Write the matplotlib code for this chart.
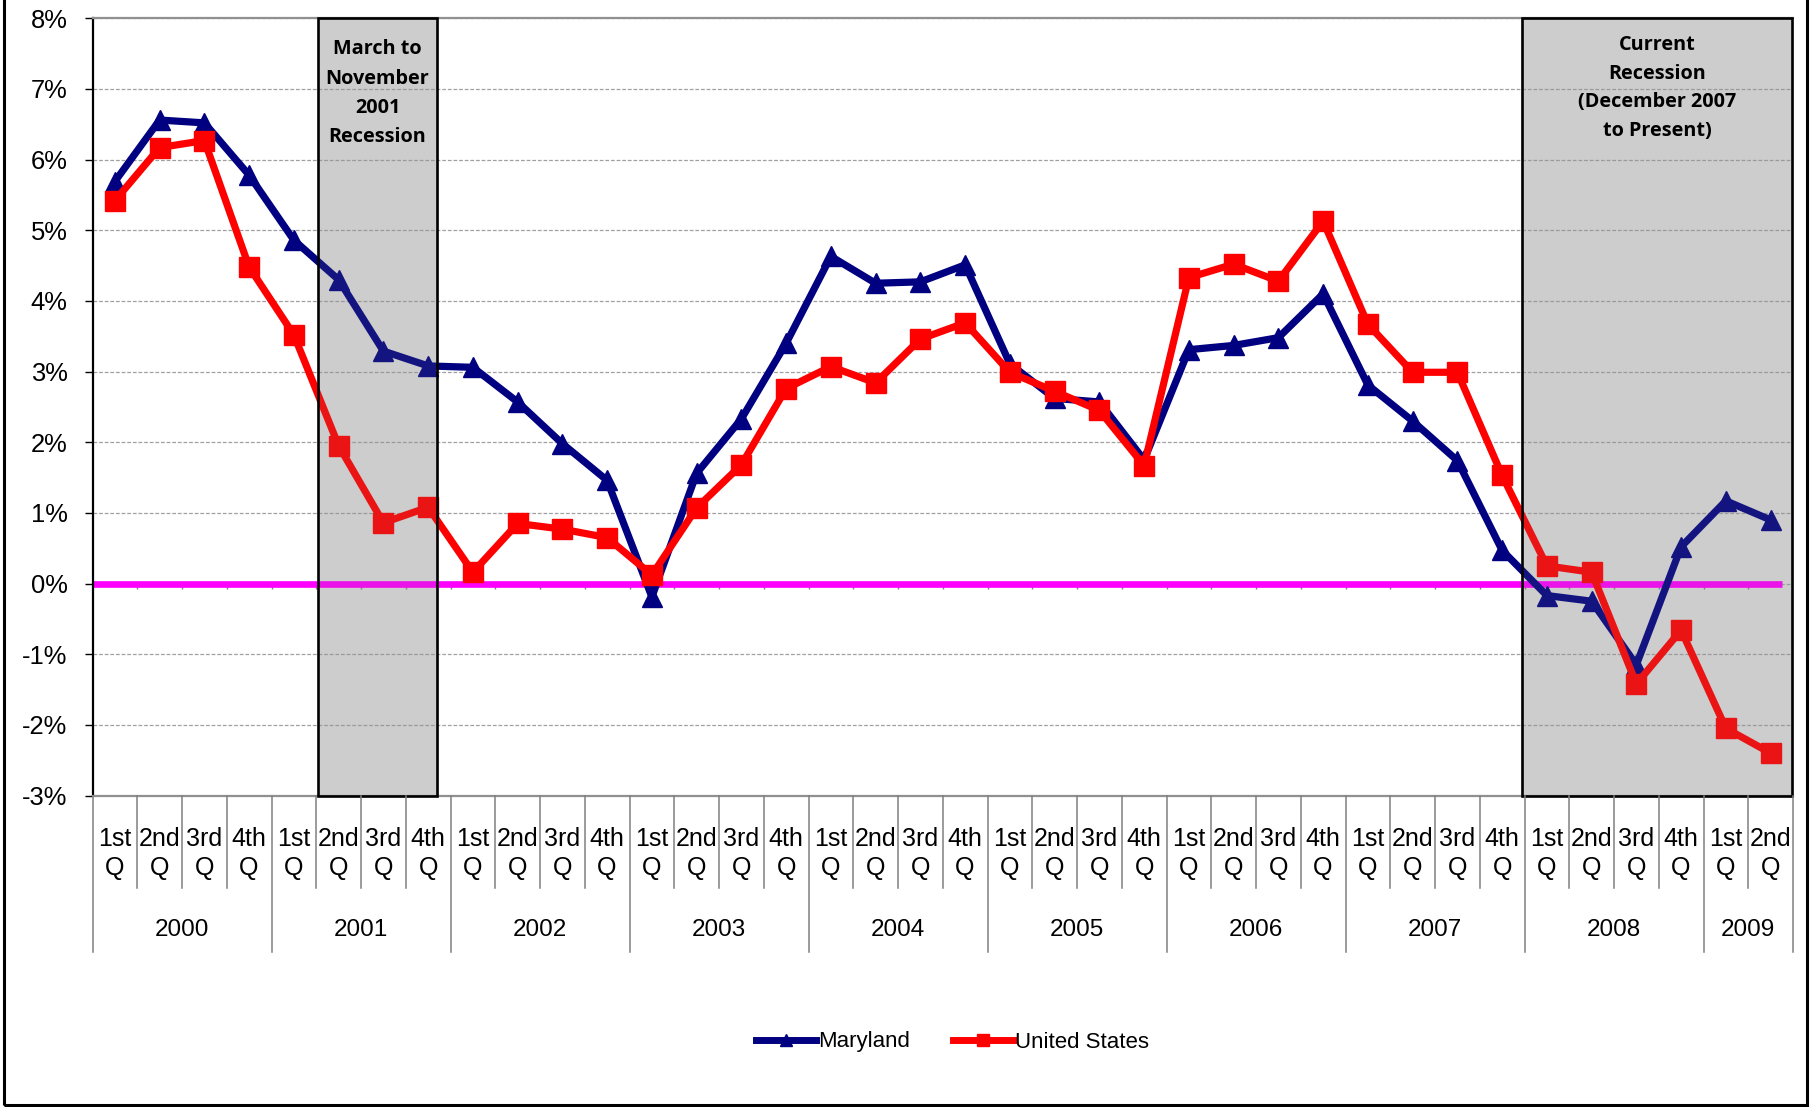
import matplotlib
matplotlib.use('Agg')
import matplotlib.pyplot as plt
import matplotlib.transforms as mtransforms
from matplotlib.patches import Rectangle
from matplotlib.lines import Line2D
import numpy as np

# ---------------- data ----------------
years = ['2000', '2001', '2002', '2003', '2004', '2005', '2006', '2007', '2008', '2009']
quarters_per_year = [4, 4, 4, 4, 4, 4, 4, 4, 4, 2]
quarter_names = ['1st', '2nd', '3rd', '4th']

maryland = [5.69, 6.56, 6.52, 5.78,
            4.86, 4.30, 3.29, 3.08,
            3.06, 2.57, 1.98, 1.46,
            -0.19, 1.56, 2.33, 3.40,
            4.63, 4.25, 4.27, 4.51,
            3.11, 2.62, 2.57, 1.75,
            3.31, 3.37, 3.48, 4.10,
            2.81, 2.30, 1.74, 0.47,
            -0.17, -0.25, -1.15, 0.52,
            1.17, 0.90]
united_states = [5.42, 6.17, 6.27, 4.48,
                 3.52, 1.95, 0.86, 1.08,
                 0.16, 0.85, 0.77, 0.65,
                 0.12, 1.07, 1.68, 2.76,
                 3.07, 2.84, 3.46, 3.69,
                 2.99, 2.72, 2.45, 1.67,
                 4.33, 4.52, 4.28, 5.13,
                 3.67, 2.99, 2.99, 1.53,
                 0.25, 0.16, -1.42, -0.66,
                 -2.05, -2.40]
y_ticks = list(range(-3, 9))
series_names = ['Maryland', 'United States']

# recession shading spans (category index units) and their captions
recession_spans = [(4.54, 7.20), (31.44, 37.48)]
recession_texts = [['March to', 'November', '2001', 'Recession'],
                   ['Current', 'Recession', '(December 2007', 'to Present)']]

# ---------------- layout ----------------
plt.rcParams['hatch.linewidth'] = 0.6
W, H = 1813, 1107
fig = plt.figure(figsize=(W / 100, H / 100), dpi=100)
fig.patch.set_facecolor('white')

ax_left, ax_right, ax_top, ax_bottom = 92.5, 1793, 18.3, 795.5
ax = fig.add_axes([ax_left / W, 1 - ax_bottom / H,
                   (ax_right - ax_left) / W, (ax_bottom - ax_top) / H])

NAVY = '#000080'
RED = '#FF0000'
MAGENTA = '#FF00FF'
SANS = ['Liberation Sans', 'DejaVu Sans']
NARROW = ['Liberation Sans Narrow', 'Liberation Sans', 'DejaVu Sans']

n = len(maryland)
x = np.arange(n)

ax.set_xlim(-0.5, n - 0.5)
ax.set_ylim(min(y_ticks), max(y_ticks))

# grid
ax.set_axisbelow(True)
ax.yaxis.grid(True, color='#a0a0a0', linestyle=(0, (3, 1.5)), linewidth=0.9)
ax.xaxis.grid(False)

# recession background fill (below the grid)
for (x0, x1) in recession_spans:
    ax.add_patch(Rectangle((x0, min(y_ticks)), x1 - x0, max(y_ticks) - min(y_ticks),
                           facecolor='#dcdcdc', edgecolor='none', zorder=0.2))

# zero line
ax.hlines(0, -0.5, n - 1 + 0.25, color=MAGENTA, linewidth=4.8, zorder=2.5)
# small tick marks on the zero line
bounds = np.arange(n + 1) - 0.5
ax.vlines(bounds[1:-1], -0.075, 0, color='#808080', linewidth=1, zorder=2.4)

# series
ax.plot(x, maryland, color=NAVY, linewidth=5.2, marker='^', markersize=15,
        solid_joinstyle='round', solid_capstyle='round', zorder=3)
ax.plot(x, united_states, color=RED, linewidth=5.2, marker='s', markersize=14,
        solid_joinstyle='round', solid_capstyle='round', zorder=3.2)

# recession hatch overlay, border and captions
line_y_px = [[49, 79, 108, 137], [45, 74, 102, 131]]
trans_xfig = mtransforms.blended_transform_factory(ax.transData, fig.transFigure)
for (x0, x1), texts, ys in zip(recession_spans, recession_texts, line_y_px):
    ax.add_patch(Rectangle((x0, min(y_ticks)), x1 - x0, max(y_ticks) - min(y_ticks),
                           facecolor='none', edgecolor=(0.5, 0.5, 0.5, 0.16),
                           hatch='+' * 24, linewidth=0, zorder=4))
    ax.add_patch(Rectangle((x0, min(y_ticks)), x1 - x0, max(y_ticks) - min(y_ticks),
                           facecolor='none', edgecolor='black', linewidth=1.9, zorder=5,
                           clip_on=False))
    xc = (x0 + x1) / 2
    for t, yp in zip(texts, ys):
        fig.text(xc, 1 - yp / H, t, transform=trans_xfig, ha='center', va='center',
                 fontsize=14.3, fontweight='bold', family=['Open Sans', 'DejaVu Sans'],
                 color='black', zorder=6)

# spines
ax.spines['left'].set_color('black')
ax.spines['left'].set_linewidth(1.6)
ax.spines['top'].set_color('#909090')
ax.spines['top'].set_linewidth(1.6)
ax.spines['bottom'].set_color('#909090')
ax.spines['bottom'].set_linewidth(1.6)
ax.spines['right'].set_visible(False)

# y axis
ax.set_yticks(y_ticks)
ax.set_yticklabels([f'{v}%' for v in y_ticks], family=SANS, fontsize=18.4)
ax.tick_params(axis='y', length=6, width=1, color='black', pad=12)
ax.set_xticks([])

# two-level category axis
q_labels = []
year_start = []
pos = 0
for yr, nq in zip(years, quarters_per_year):
    year_start.append(pos)
    for q in range(nq):
        q_labels.append(quarter_names[q])
    pos += nq
year_start.append(pos)

for i, lab in enumerate(q_labels):
    fig.text(i, 1 - 845.5 / H, lab, transform=trans_xfig, ha='center', va='baseline',
             fontsize=18, family=NARROW, color='black')
    fig.text(i, 1 - 875.5 / H, 'Q', transform=trans_xfig, ha='center', va='baseline',
             fontsize=18, family=NARROW, color='black')

for k, yr in enumerate(years):
    xc = (year_start[k] + year_start[k + 1] - 1) / 2
    fig.text(xc, 1 - 936.5 / H, yr, transform=trans_xfig, ha='center', va='baseline',
             fontsize=17.5, family=NARROW, color='black')

year_bounds = set(year_start)
for b in range(n + 1):
    bx = b - 0.5
    y_end = 952 if b in year_bounds else 888
    fig.add_artist(Line2D([bx, bx], [1 - ax_bottom / H, 1 - y_end / H],
                          transform=trans_xfig, color='#808080', linewidth=1.1))

# legend
handles = [Line2D([], [], color=NAVY, linewidth=5, marker='^', markersize=9),
           Line2D([], [], color=RED, linewidth=5, marker='s', markersize=9)]
fig.legend(handles, series_names, loc='center', bbox_to_anchor=(952.5 / W, 1 - 1042 / H),
           ncol=2, frameon=False, prop={'family': SANS, 'size': 16},
           handlelength=2.7, handletextpad=0.12, columnspacing=1.9)

# outer chart frame
fig.add_artist(Rectangle((4 / W, 1 - 1105 / H), (1807 - 4) / W, (1105 + 20) / H,
                         transform=fig.transFigure, fill=False, edgecolor='black',
                         linewidth=2.2))

fig.savefig('out.png', dpi=100, facecolor='white')
